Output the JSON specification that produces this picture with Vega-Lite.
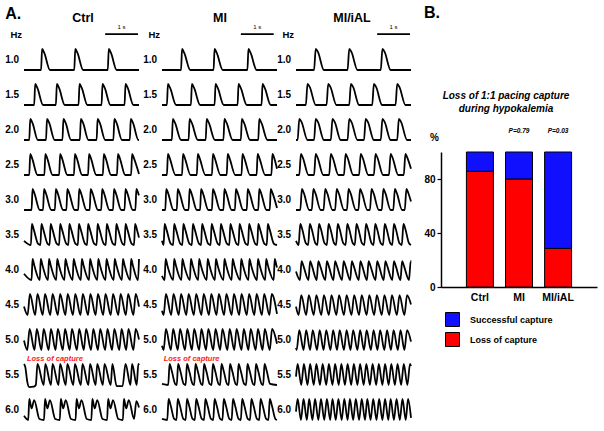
{
"$schema": "https://vega.github.io/schema/vega-lite/v6.json",
"padding": {"left": 5, "right": 2, "top": 5, "bottom": 2},
"background": "white",
"config": {"view": {"stroke": null}, "font": "Liberation Sans", "title": {"font": "Liberation Sans", "color": "black"}, "axis": {"labelOverlap": false}},
"resolve": {"legend": {"color": "independent"}},
"datasets": {
"ctrl": [
{"f":"1.0","t":[0,0.52,0.55,0.62,0.79,1.53,1.56,1.63,1.8,2.55,2.58,2.65,2.82,3.5],"v":[0,0,100,80,0,0,100,80,0,0,100,80,0,0]},
{"f":"1.5","t":[0,0.31,0.34,0.41,0.58,0.97,1.0,1.07,1.24,1.66,1.69,1.76,1.93,2.36,2.39,2.46,2.63,3.06,3.09,3.16,3.33,3.5],"v":[0,0,100,80,0,0,100,80,0,0,100,80,0,0,100,80,0,0,100,80,0,0]},
{"f":"2.0","t":[0,0.16,0.19,0.26,0.42,0.67,0.7,0.77,0.93,1.17,1.2,1.27,1.43,1.7,1.73,1.8,1.96,2.21,2.24,2.31,2.47,2.72,2.75,2.82,2.98,3.22,3.25,3.32,3.48,3.5],"v":[0,0,100,80,0,0,100,80,0,0,100,80,0,0,100,80,0,0,100,80,0,0,100,80,0,0,100,80,0,0]},
{"f":"2.5","t":[0,0.16,0.19,0.25,0.41,0.62,0.65,0.71,0.87,1.07,1.1,1.16,1.32,1.52,1.55,1.61,1.77,1.95,1.98,2.04,2.2,2.4,2.43,2.49,2.65,2.83,2.86,2.92,3.08,3.26,3.29,3.35,3.5],"v":[0,0,100,78,0,0,100,78,0,0,100,78,0,0,100,78,0,0,100,78,0,0,100,78,0,0,100,78,0,0,100,78,5]},
{"f":"3.0","t":[0,0.23,0.26,0.32,0.48,0.58,0.61,0.67,0.83,0.94,0.97,1.03,1.19,1.29,1.32,1.38,1.54,1.65,1.68,1.74,1.9,2.0,2.03,2.09,2.25,2.35,2.38,2.44,2.6,2.71,2.74,2.8,2.96,3.06,3.09,3.15,3.31,3.39,3.42,3.48,3.5],"v":[0,0,100,78,0,0,100,78,0,0,100,78,0,0,100,78,0,0,100,78,0,0,100,78,0,0,100,78,0,0,100,78,0,0,100,78,0,0,100,78,70]},
{"f":"3.5","t":[0,0.21,0.24,0.3,0.43,0.5,0.53,0.59,0.72,0.78,0.81,0.87,1.0,1.07,1.1,1.16,1.29,1.35,1.38,1.44,1.57,1.64,1.67,1.73,1.86,1.92,1.95,2.01,2.14,2.21,2.24,2.3,2.43,2.49,2.52,2.58,2.71,2.78,2.81,2.87,3.0,3.06,3.09,3.15,3.28,3.35,3.38,3.44,3.5],"v":[20,0,100,72,5,0,100,72,5,0,100,72,5,0,100,72,5,0,100,72,5,0,100,72,5,0,100,72,5,0,100,72,5,0,100,72,5,0,100,72,5,0,100,72,5,0,100,72,35]},
{"f":"4.0","t":[0,0.23,0.26,0.32,0.48,0.51,0.57,0.73,0.76,0.82,0.98,1.01,1.07,1.23,1.26,1.32,1.48,1.51,1.57,1.73,1.76,1.82,1.98,2.01,2.07,2.23,2.26,2.32,2.48,2.51,2.57,2.73,2.76,2.82,2.98,3.01,3.07,3.23,3.26,3.32,3.47,3.5],"v":[30,0,100,65,0,100,65,0,100,65,0,100,65,0,100,65,0,100,65,0,100,65,0,100,65,0,100,65,0,100,65,0,100,65,0,100,65,0,100,65,0,100]},
{"f":"4.5","t":[0,0.11,0.18,0.34,0.41,0.57,0.64,0.8,0.87,1.03,1.1,1.26,1.33,1.49,1.56,1.72,1.79,1.95,2.02,2.18,2.25,2.41,2.48,2.64,2.71,2.87,2.94,3.1,3.17,3.33,3.4,3.5],"v":[40,0,100,0,100,0,100,0,100,0,100,0,100,0,100,0,100,0,100,0,100,0,100,0,100,0,100,0,100,0,100,40]},
{"f":"5.0","t":[0,0.1,0.17,0.32,0.39,0.53,0.6,0.75,0.82,0.96,1.03,1.18,1.25,1.39,1.46,1.61,1.68,1.82,1.89,2.04,2.11,2.25,2.32,2.47,2.54,2.68,2.75,2.9,2.97,3.11,3.18,3.33,3.4,3.5],"v":[45,0,100,0,100,0,100,0,100,0,100,0,100,0,100,0,100,0,100,0,100,0,100,0,100,0,100,0,100,0,100,0,100,50]},
{"f":"5.5","t":[0,0.04,0.1,0.16,0.3,0.36,0.41,0.6,0.65,0.82,0.87,1.05,1.1,1.27,1.32,1.5,1.55,1.73,1.78,1.96,2.01,2.18,2.23,2.4,2.45,2.64,2.69,2.82,3.0,3.09,3.24,3.29,3.43,3.48,3.5],"v":[100,85,15,-10,-8,0,100,0,100,0,100,0,100,0,100,0,100,0,100,0,100,0,100,0,100,0,100,-5,-5,100,0,100,0,100,95]},
{"f":"6.0","t":[0,0.13,0.16,0.23,0.31,0.47,0.61,0.64,0.71,0.79,0.95,1.09,1.12,1.19,1.27,1.43,1.57,1.6,1.67,1.75,1.91,2.05,2.08,2.15,2.23,2.39,2.53,2.56,2.63,2.71,2.87,3.01,3.04,3.11,3.19,3.35,3.42,3.5],"v":[20,0,100,55,95,5,0,100,55,95,5,0,100,55,95,5,0,100,55,95,5,0,100,55,95,5,0,100,55,95,5,0,100,55,95,5,90,60]}
],
"mi": [
{"f":"1.0","t":[0,0.58,0.61,0.68,0.86,1.57,1.6,1.67,1.85,2.6,2.63,2.7,2.88,3.5],"v":[0,0,100,80,0,0,100,80,0,0,100,80,0,0]},
{"f":"1.5","t":[0,0.15,0.18,0.25,0.43,0.88,0.91,0.98,1.16,1.6,1.63,1.7,1.88,2.3,2.33,2.4,2.58,3.03,3.06,3.13,3.31,3.5],"v":[0,0,100,80,0,0,100,80,0,0,100,80,0,0,100,80,0,0,100,80,0,0]},
{"f":"2.0","t":[0,0.3,0.33,0.4,0.58,0.81,0.84,0.91,1.09,1.33,1.36,1.43,1.61,1.87,1.9,1.97,2.15,2.4,2.43,2.5,2.68,2.93,2.96,3.03,3.21,3.5],"v":[0,0,100,80,0,0,100,80,0,0,100,80,0,0,100,80,0,0,100,80,0,0,100,80,0,0]},
{"f":"2.5","t":[0,0.15,0.18,0.24,0.41,0.61,0.64,0.7,0.87,1.06,1.09,1.15,1.32,1.52,1.55,1.61,1.78,1.97,2.0,2.06,2.23,2.42,2.45,2.51,2.68,2.88,2.91,2.97,3.14,3.33,3.36,3.42,3.5],"v":[0,0,100,78,0,0,100,78,0,0,100,78,0,0,100,78,0,0,100,78,0,0,100,78,0,0,100,78,0,0,100,78,30]},
{"f":"3.0","t":[0,0.1,0.13,0.19,0.35,0.45,0.48,0.54,0.7,0.81,0.84,0.9,1.06,1.16,1.19,1.25,1.41,1.52,1.55,1.61,1.77,1.87,1.9,1.96,2.12,2.22,2.25,2.31,2.47,2.58,2.61,2.67,2.83,2.93,2.96,3.02,3.18,3.28,3.31,3.37,3.5],"v":[0,0,100,78,0,0,100,78,0,0,100,78,0,0,100,78,0,0,100,78,0,0,100,78,0,0,100,78,0,0,100,78,0,0,100,78,0,0,100,78,10]},
{"f":"3.5","t":[0,0.05,0.08,0.14,0.27,0.34,0.37,0.43,0.56,0.62,0.65,0.71,0.84,0.91,0.94,1.0,1.13,1.19,1.22,1.28,1.41,1.48,1.51,1.57,1.7,1.76,1.79,1.85,1.98,2.05,2.08,2.14,2.27,2.33,2.36,2.42,2.55,2.62,2.65,2.71,2.84,2.9,2.93,2.99,3.12,3.19,3.22,3.28,3.41,3.5],"v":[20,0,100,72,5,0,100,72,5,0,100,72,5,0,100,72,5,0,100,72,5,0,100,72,5,0,100,72,5,0,100,72,5,0,100,72,5,0,100,72,5,0,100,72,5,0,100,72,5,0]},
{"f":"4.0","t":[0,0.08,0.11,0.17,0.34,0.37,0.43,0.59,0.62,0.68,0.85,0.88,0.94,1.1,1.13,1.19,1.36,1.39,1.45,1.61,1.64,1.7,1.87,1.9,1.96,2.12,2.15,2.21,2.38,2.41,2.47,2.63,2.66,2.72,2.89,2.92,2.98,3.14,3.17,3.23,3.4,3.43,3.49,3.5],"v":[20,0,100,65,0,100,65,0,100,65,0,100,65,0,100,65,0,100,65,0,100,65,0,100,65,0,100,65,0,100,65,0,100,65,0,100,65,0,100,65,0,100,65,60]},
{"f":"4.5","t":[0,0.05,0.12,0.28,0.35,0.51,0.58,0.74,0.81,0.97,1.04,1.2,1.27,1.43,1.5,1.66,1.73,1.89,1.96,2.12,2.19,2.35,2.42,2.58,2.65,2.81,2.88,3.04,3.11,3.27,3.34,3.5],"v":[20,0,100,0,100,0,100,0,100,0,100,0,100,0,100,0,100,0,100,0,100,0,100,0,100,0,100,0,100,0,100,5]},
{"f":"5.0","t":[0,0.05,0.12,0.27,0.34,0.48,0.55,0.7,0.77,0.91,0.98,1.13,1.2,1.34,1.41,1.56,1.63,1.77,1.84,1.99,2.06,2.2,2.27,2.42,2.49,2.63,2.7,2.85,2.92,3.06,3.13,3.28,3.35,3.5],"v":[20,0,100,0,100,0,100,0,100,0,100,0,100,0,100,0,100,0,100,0,100,0,100,0,100,0,100,0,100,0,100,0,100,30]},
{"f":"5.5","t":[0,0.19,0.23,0.3,0.4,0.45,0.49,0.56,0.66,0.72,0.76,0.83,0.93,0.98,1.02,1.09,1.19,1.24,1.28,1.35,1.45,1.51,1.55,1.62,1.72,1.77,1.81,1.88,1.98,2.03,2.07,2.14,2.24,2.29,2.33,2.4,2.5,2.56,2.6,2.67,2.77,2.82,2.86,2.93,3.03,3.08,3.12,3.19,3.29,3.5],"v":[5,0,100,65,5,0,100,65,5,0,100,65,5,0,100,65,5,0,100,65,5,0,100,65,5,0,100,65,5,0,100,65,5,0,100,65,5,0,100,65,5,0,100,65,5,0,100,65,5,0]},
{"f":"6.0","t":[0,0.16,0.2,0.27,0.37,0.44,0.48,0.55,0.65,0.72,0.76,0.83,0.93,1.0,1.04,1.11,1.21,1.28,1.32,1.39,1.49,1.56,1.6,1.67,1.77,1.84,1.88,1.95,2.05,2.12,2.16,2.23,2.33,2.4,2.44,2.51,2.61,2.68,2.72,2.79,2.89,2.96,3.0,3.07,3.17,3.24,3.28,3.35,3.45,3.5],"v":[5,0,100,65,5,0,100,65,5,0,100,65,5,0,100,65,5,0,100,65,5,0,100,65,5,0,100,65,5,0,100,65,5,0,100,65,5,0,100,65,5,0,100,65,5,0,100,65,5,0]}
],
"mial": [
{"f":"1.0","t":[0,0.55,0.6,0.67,0.85,1.57,1.62,1.69,1.87,2.58,2.63,2.7,2.88,3.5],"v":[0,0,100,85,0,0,100,85,0,0,100,85,0,0]},
{"f":"1.5","t":[0,0.3,0.35,0.42,0.6,0.93,0.98,1.05,1.23,1.62,1.67,1.74,1.92,2.32,2.37,2.44,2.62,3.03,3.08,3.15,3.33,3.5],"v":[0,0,100,85,0,0,100,85,0,0,100,85,0,0,100,85,0,0,100,85,0,0]},
{"f":"2.0","t":[0,0.05,0.1,0.17,0.35,0.55,0.6,0.67,0.85,1.06,1.11,1.18,1.36,1.57,1.62,1.69,1.87,2.07,2.12,2.19,2.37,2.58,2.63,2.7,2.88,3.08,3.13,3.2,3.38,3.5],"v":[0,0,100,85,0,0,100,85,0,0,100,85,0,0,100,85,0,0,100,85,0,0,100,85,0,0,100,85,0,0]},
{"f":"2.5","t":[0,0.1,0.15,0.21,0.38,0.55,0.6,0.66,0.83,1.01,1.06,1.12,1.29,1.46,1.51,1.57,1.74,1.92,1.97,2.03,2.2,2.37,2.42,2.48,2.65,2.83,2.88,2.94,3.11,3.28,3.33,3.39,3.5],"v":[0,0,100,82,0,0,100,82,0,0,100,82,0,0,100,82,0,0,100,82,0,0,100,82,0,0,100,82,0,0,100,82,30]},
{"f":"3.0","t":[0,0.13,0.18,0.24,0.4,0.48,0.53,0.59,0.75,0.84,0.89,0.95,1.11,1.19,1.24,1.3,1.46,1.55,1.6,1.66,1.82,1.9,1.95,2.01,2.17,2.25,2.3,2.36,2.52,2.61,2.66,2.72,2.88,2.96,3.01,3.07,3.23,3.31,3.36,3.42,3.5],"v":[0,0,100,80,0,0,100,80,0,0,100,80,0,0,100,80,0,0,100,80,0,0,100,80,0,0,100,80,0,0,100,80,0,0,100,80,0,0,100,80,40]},
{"f":"3.5","t":[0,0.08,0.13,0.19,0.3,0.37,0.42,0.48,0.59,0.65,0.7,0.76,0.87,0.94,0.99,1.05,1.16,1.22,1.27,1.33,1.44,1.51,1.56,1.62,1.73,1.79,1.84,1.9,2.01,2.08,2.13,2.19,2.3,2.36,2.41,2.47,2.58,2.65,2.7,2.76,2.87,2.93,2.98,3.04,3.15,3.22,3.27,3.33,3.44,3.5],"v":[20,0,100,75,8,0,100,75,8,0,100,75,8,0,100,75,8,0,100,75,8,0,100,75,8,0,100,75,8,0,100,75,8,0,100,75,8,0,100,75,8,0,100,75,8,0,100,75,8,0]},
{"f":"4.0","t":[0,0.12,0.17,0.23,0.38,0.43,0.49,0.63,0.68,0.74,0.89,0.94,1.0,1.14,1.19,1.25,1.4,1.45,1.51,1.65,1.7,1.76,1.91,1.96,2.02,2.16,2.21,2.27,2.42,2.47,2.53,2.67,2.72,2.78,2.93,2.98,3.04,3.18,3.23,3.29,3.44,3.49,3.5],"v":[40,0,90,65,0,90,65,0,90,65,0,90,65,0,90,65,0,90,65,0,90,65,0,90,65,0,90,65,0,90,65,0,90,65,0,90,65,0,90,65,0,90,88]},
{"f":"4.5","t":[0,0.08,0.16,0.31,0.39,0.54,0.62,0.77,0.85,1.0,1.08,1.23,1.31,1.46,1.54,1.69,1.77,1.92,2.0,2.15,2.23,2.38,2.46,2.61,2.69,2.84,2.92,3.07,3.15,3.3,3.38,3.5],"v":[40,0,95,0,95,0,95,0,95,0,95,0,95,0,95,0,95,0,95,0,95,0,95,0,95,0,95,0,95,0,95,50]},
{"f":"5.0","t":[0,0.02,0.1,0.23,0.31,0.43,0.51,0.64,0.72,0.84,0.92,1.05,1.13,1.25,1.33,1.46,1.54,1.66,1.74,1.87,1.95,2.07,2.15,2.28,2.36,2.48,2.56,2.69,2.77,2.89,2.97,3.1,3.18,3.3,3.38,3.5],"v":[10,0,95,0,95,0,95,0,95,0,95,0,95,0,95,0,95,0,95,0,95,0,95,0,95,0,95,0,95,0,95,0,95,0,95,40]},
{"f":"5.5","t":[0,0.05,0.16,0.24,0.35,0.43,0.54,0.62,0.73,0.81,0.92,1.0,1.11,1.19,1.3,1.38,1.49,1.57,1.68,1.76,1.87,1.95,2.06,2.14,2.25,2.33,2.44,2.52,2.63,2.71,2.82,2.9,3.01,3.09,3.2,3.28,3.39,3.47,3.5],"v":[40,100,0,100,0,100,0,100,0,100,0,100,0,100,0,100,0,100,0,100,0,100,0,100,0,100,0,100,0,100,0,100,0,100,0,100,0,100,90]},
{"f":"6.0","t":[0,0.05,0.15,0.23,0.33,0.4,0.5,0.58,0.68,0.76,0.86,0.94,1.04,1.11,1.21,1.29,1.39,1.47,1.57,1.64,1.74,1.82,1.92,2.0,2.1,2.17,2.27,2.35,2.45,2.53,2.63,2.71,2.81,2.88,2.98,3.06,3.16,3.24,3.34,3.41,3.5],"v":[40,100,0,100,0,100,0,100,0,100,0,100,0,100,0,100,0,100,0,100,0,100,0,100,0,100,0,100,0,100,0,100,0,100,0,100,0,100,0,100,10]}
],
"bars": [
{"g":"Ctrl","s":"Loss of capture","pct":85.7,"o":1,"p":""},
{"g":"Ctrl","s":"Successful capture","pct":14.3,"o":2,"p":""},
{"g":"MI","s":"Loss of capture","pct":80,"o":1,"p":""},
{"g":"MI","s":"Successful capture","pct":20,"o":2,"p":"P=0.79"},
{"g":"MI/iAL","s":"Loss of capture","pct":28.6,"o":1,"p":""},
{"g":"MI/iAL","s":"Successful capture","pct":71.4,"o":2,"p":"P=0.03"}
]
},
"hconcat": [
{
"title": {"text": "A.", "anchor": "start", "fontSize": 16, "fontWeight": "bold", "offset": -10},
"spacing": -4,
"hconcat": [
{
"spacing": 0,
"hconcat": [
{
"data": {"name": "ctrl"},
"title": {"text": "Ctrl", "fontSize": 12.5, "fontWeight": "bold", "anchor": "middle", "frame": "group", "dx": 59, "offset": -1},
"bounds": "flush",
"spacing": {"row": 14},
"facet": {"row": {"field": "f", "type": "ordinal", "header": {"title": null, "labelAngle": 0, "labelAlign": "right", "labelFontSize": 10, "labelFontWeight": "bold", "labelPadding": -9, "labelColor": "black"}}},
"spec": {
"width": 115, "height": 21,
"layer": [
{"transform": [{"flatten": ["t", "v"]}], "mark": {"type": "line", "color": "black", "strokeWidth": 1.8, "interpolate": "monotone"}, "encoding": {"x": {"field": "t", "type": "quantitative", "scale": {"domain": [0, 3.5]}, "axis": null}, "y": {"field": "v", "type": "quantitative", "scale": {"domain": [0, 100]}, "axis": null}}},
{"transform": [{"filter": "datum.f == '1.0'"}], "mark": {"type": "rule", "color": "black", "strokeWidth": 1.6}, "encoding": {"x": {"datum": 2.47, "type": "quantitative", "axis": null}, "x2": {"datum": 3.47}, "y": {"datum": 171, "type": "quantitative", "axis": null}}},
{"transform": [{"filter": "datum.f == '1.0'"}], "mark": {"type": "text", "fontSize": 6, "color": "black"}, "encoding": {"x": {"datum": 2.97, "type": "quantitative", "axis": null}, "y": {"datum": 205, "type": "quantitative", "axis": null}, "text": {"value": "1 s"}}},
{"transform": [{"filter": "datum.f == '1.0'"}], "mark": {"type": "text", "fontSize": 9.5, "fontWeight": "bold", "align": "right", "color": "black"}, "encoding": {"x": {"datum": -0.06, "type": "quantitative", "axis": null}, "y": {"datum": 167, "type": "quantitative", "axis": null}, "text": {"value": "Hz"}}},
{"transform": [{"filter": "datum.f == '5.5'"}], "mark": {"type": "text", "fontSize": 7.5, "fontWeight": "bold", "fontStyle": "italic", "align": "left", "color": "#ff2020"}, "encoding": {"x": {"datum": 0.09, "type": "quantitative", "axis": null}, "y": {"datum": 122, "type": "quantitative", "axis": null}, "text": {"value": "Loss of capture"}}}
]
}
},
{
"data": {"name": "mi"},
"title": {"text": "MI", "fontSize": 12.5, "fontWeight": "bold", "anchor": "middle", "frame": "group", "dx": 58, "offset": -1},
"bounds": "flush",
"spacing": {"row": 14},
"facet": {"row": {"field": "f", "type": "ordinal", "header": {"title": null, "labelAngle": 0, "labelAlign": "right", "labelFontSize": 10, "labelFontWeight": "bold", "labelPadding": -9, "labelColor": "black"}}},
"spec": {
"width": 115, "height": 21,
"layer": [
{"transform": [{"flatten": ["t", "v"]}], "mark": {"type": "line", "color": "black", "strokeWidth": 1.8, "interpolate": "monotone"}, "encoding": {"x": {"field": "t", "type": "quantitative", "scale": {"domain": [0, 3.5]}, "axis": null}, "y": {"field": "v", "type": "quantitative", "scale": {"domain": [0, 100]}, "axis": null}}},
{"transform": [{"filter": "datum.f == '1.0'"}], "mark": {"type": "rule", "color": "black", "strokeWidth": 1.6}, "encoding": {"x": {"datum": 2.4, "type": "quantitative", "axis": null}, "x2": {"datum": 3.4}, "y": {"datum": 171, "type": "quantitative", "axis": null}}},
{"transform": [{"filter": "datum.f == '1.0'"}], "mark": {"type": "text", "fontSize": 6, "color": "black"}, "encoding": {"x": {"datum": 2.9, "type": "quantitative", "axis": null}, "y": {"datum": 205, "type": "quantitative", "axis": null}, "text": {"value": "1 s"}}},
{"transform": [{"filter": "datum.f == '1.0'"}], "mark": {"type": "text", "fontSize": 9.5, "fontWeight": "bold", "align": "right", "color": "black"}, "encoding": {"x": {"datum": -0.06, "type": "quantitative", "axis": null}, "y": {"datum": 167, "type": "quantitative", "axis": null}, "text": {"value": "Hz"}}},
{"transform": [{"filter": "datum.f == '5.5'"}], "mark": {"type": "text", "fontSize": 7.5, "fontWeight": "bold", "fontStyle": "italic", "align": "left", "color": "#ff2020"}, "encoding": {"x": {"datum": 0.05, "type": "quantitative", "axis": null}, "y": {"datum": 124, "type": "quantitative", "axis": null}, "text": {"value": "Loss of capture"}}}
]
}
}
]
},
{
"data": {"name": "mial"},
"title": {"text": "MI/iAL", "fontSize": 12.5, "fontWeight": "bold", "anchor": "middle", "frame": "group", "dx": 56, "offset": -1},
"bounds": "flush",
"spacing": {"row": 14},
"facet": {"row": {"field": "f", "type": "ordinal", "header": {"title": null, "labelAngle": 0, "labelAlign": "right", "labelFontSize": 10, "labelFontWeight": "bold", "labelPadding": -9, "labelColor": "black"}}},
"spec": {
"width": 115, "height": 21,
"layer": [
{"transform": [{"flatten": ["t", "v"]}], "mark": {"type": "line", "color": "black", "strokeWidth": 1.8, "interpolate": "monotone"}, "encoding": {"x": {"field": "t", "type": "quantitative", "scale": {"domain": [0, 3.5]}, "axis": null}, "y": {"field": "v", "type": "quantitative", "scale": {"domain": [0, 100]}, "axis": null}}},
{"transform": [{"filter": "datum.f == '1.0'"}], "mark": {"type": "rule", "color": "black", "strokeWidth": 1.6}, "encoding": {"x": {"datum": 2.47, "type": "quantitative", "axis": null}, "x2": {"datum": 3.47}, "y": {"datum": 171, "type": "quantitative", "axis": null}}},
{"transform": [{"filter": "datum.f == '1.0'"}], "mark": {"type": "text", "fontSize": 6, "color": "black"}, "encoding": {"x": {"datum": 2.97, "type": "quantitative", "axis": null}, "y": {"datum": 205, "type": "quantitative", "axis": null}, "text": {"value": "1 s"}}},
{"transform": [{"filter": "datum.f == '1.0'"}], "mark": {"type": "text", "fontSize": 9.5, "fontWeight": "bold", "align": "right", "color": "black"}, "encoding": {"x": {"datum": -0.06, "type": "quantitative", "axis": null}, "y": {"datum": 167, "type": "quantitative", "axis": null}, "text": {"value": "Hz"}}}
]
}
}
]
},
{
"spacing": 0,
"resolve": {"legend": {"color": "independent"}},
"vconcat": [
{
"width": 156, "height": 42,
"title": {"text": "B.", "anchor": "start", "fontSize": 16, "fontWeight": "bold", "dx": -17, "offset": 28},
"data": {"values": [{"a": 1}]},
"mark": {"type": "text"},
"encoding": {}
},
{
"width": 156, "height": 135,
"data": {"name": "bars"},
"title": {"text": ["Loss of 1:1 pacing capture", "during hypokalemia"], "fontSize": 10, "fontWeight": "bold", "fontStyle": "italic", "lineHeight": 13, "anchor": "middle", "frame": "group", "dx": -13, "offset": 14},
"layer": [
{"mark": {"type": "bar", "stroke": "black", "strokeWidth": 1},
"encoding": {
"x": {"field": "g", "type": "nominal", "sort": ["Ctrl", "MI", "MI/iAL"], "scale": {"paddingInner": 0.31, "paddingOuter": 0.65}, "axis": {"title": null, "labelAngle": 0, "labelFontSize": 10.5, "labelFontWeight": "bold", "labelColor": "black", "domainColor": "black", "domainWidth": 1.5, "ticks": false, "labelPadding": 5}},
"y": {"field": "pct", "type": "quantitative", "stack": "zero", "scale": {"domain": [0, 100]}, "axis": {"values": [0, 20, 40, 60, 80, 100], "labelOverlap": false, "labelBound": false, "labelFlush": false, "title": "%", "titleAngle": 0, "titleX": -7, "titleY": -15, "titleAlign": "center", "titleBaseline": "middle", "titleFontSize": 10, "titleFontWeight": "bold", "titleColor": "black", "labelFontSize": 10, "labelFontWeight": "bold", "labelColor": "black", "domainColor": "black", "domainWidth": 1.5, "tickColor": "black", "tickSize": 4, "tickWidth": 1.2, "grid": false, "labelPadding": 2}},
"color": {"field": "s", "type": "nominal", "scale": {"domain": ["Successful capture", "Loss of capture"], "range": ["#1010ff", "#ff0000"]}, "legend": {"title": null, "orient": "none", "legendX": 4, "legendY": 160, "symbolType": "square", "symbolSize": 196, "symbolStrokeColor": "black", "symbolStrokeWidth": 1, "symbolOpacity": 1, "labelFontSize": 9, "labelFontWeight": "bold", "labelColor": "black", "labelOffset": 10, "rowPadding": 1}},
"order": {"field": "o", "type": "quantitative"}
}},
{"transform": [{"filter": "datum.p != ''"}], "mark": {"type": "text", "fontSize": 6.5, "fontWeight": "bold", "fontStyle": "italic", "dy": -21, "color": "black"},
"encoding": {"x": {"field": "g", "type": "nominal", "sort": ["Ctrl", "MI", "MI/iAL"]}, "y": {"datum": 100, "type": "quantitative"}, "text": {"field": "p"}}}
]
}
]
}
],
"spacing": 8
}
